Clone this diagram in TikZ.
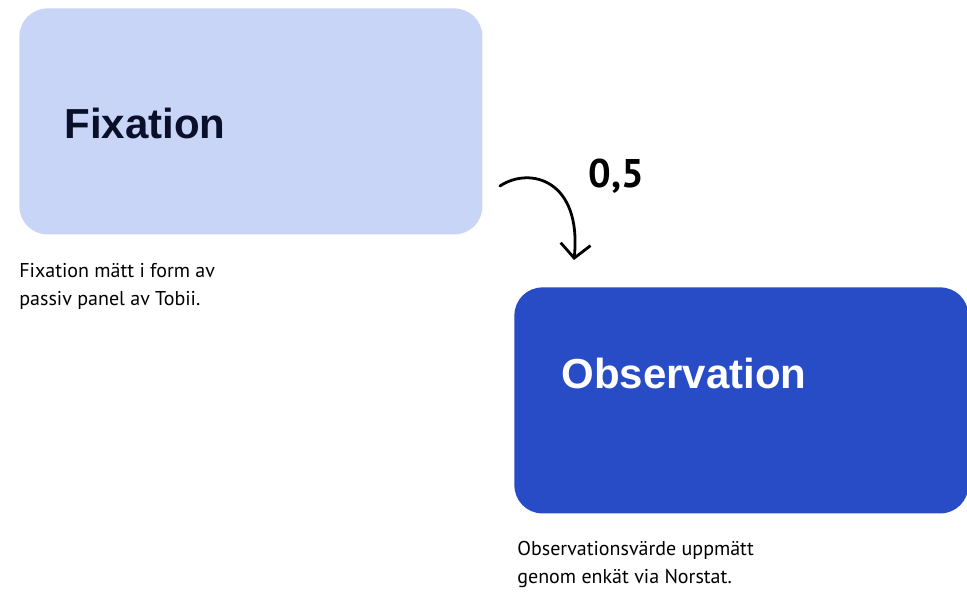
\documentclass[tikz,border=0pt]{standalone}
\usepackage{fontspec}
\usepackage{tikz}
\usetikzlibrary{arrows.meta,positioning}
\newfontfamily\boxfont{Liberation Sans}
\newfontfamily\notefont{PT Sans}
\definecolor{lightblue}{HTML}{C8D5F7}
\definecolor{darkblue}{HTML}{284CC6}
\definecolor{navy}{HTML}{0A0F2A}

\begin{document}
\begin{tikzpicture}[x=1pt,y=-1pt,>={Straight Barb[length=14pt,width=30pt,line width=2.8pt]},
                    line width=2.8pt]
  \tikzstyle{box}=[draw=none,rounded corners=28pt,anchor=north west,inner sep=0pt]
  \tikzstyle{title}=[anchor=west,inner sep=0pt,font=\boxfont\bfseries\fontsize{42}{48}\selectfont]
  \tikzstyle{note}=[anchor=north west,inner sep=0pt,align=left,font=\notefont\fontsize{20}{28}\selectfont]

  \useasboundingbox (0,0) rectangle (967,592);

  \node[box,fill=lightblue,minimum width=463pt,minimum height=226pt] (fix)  at (18,7)   {};
  \node[box,fill=darkblue, minimum width=454pt,minimum height=226pt] (obs)  at (513,286) {};

  \node[title,text=navy]  (fixtitle) at (63,123)  {Fixation};
  \node[title,text=white] (obstitle) at (560,373) {Observation};

  \node[note] (fixnote) at (18,262) {Fixation mätt i form av\\passiv panel av Tobii.};
  \node[note] (obsnote) at (516,540) {Observationsvärde uppmätt\\genom enkät via Norstat.};

  \coordinate (arrstart) at (500,186);
  \coordinate (arrend)   at (574,260);
  \draw[->,line cap=round] (arrstart) .. controls (530,166) and (582,180) .. (arrend);

  \node[anchor=north west,inner sep=0pt,font=\notefont\bfseries\fontsize{40}{44}\selectfont]
       (weight) at (587,158) {0,5};
\end{tikzpicture}
\end{document}
